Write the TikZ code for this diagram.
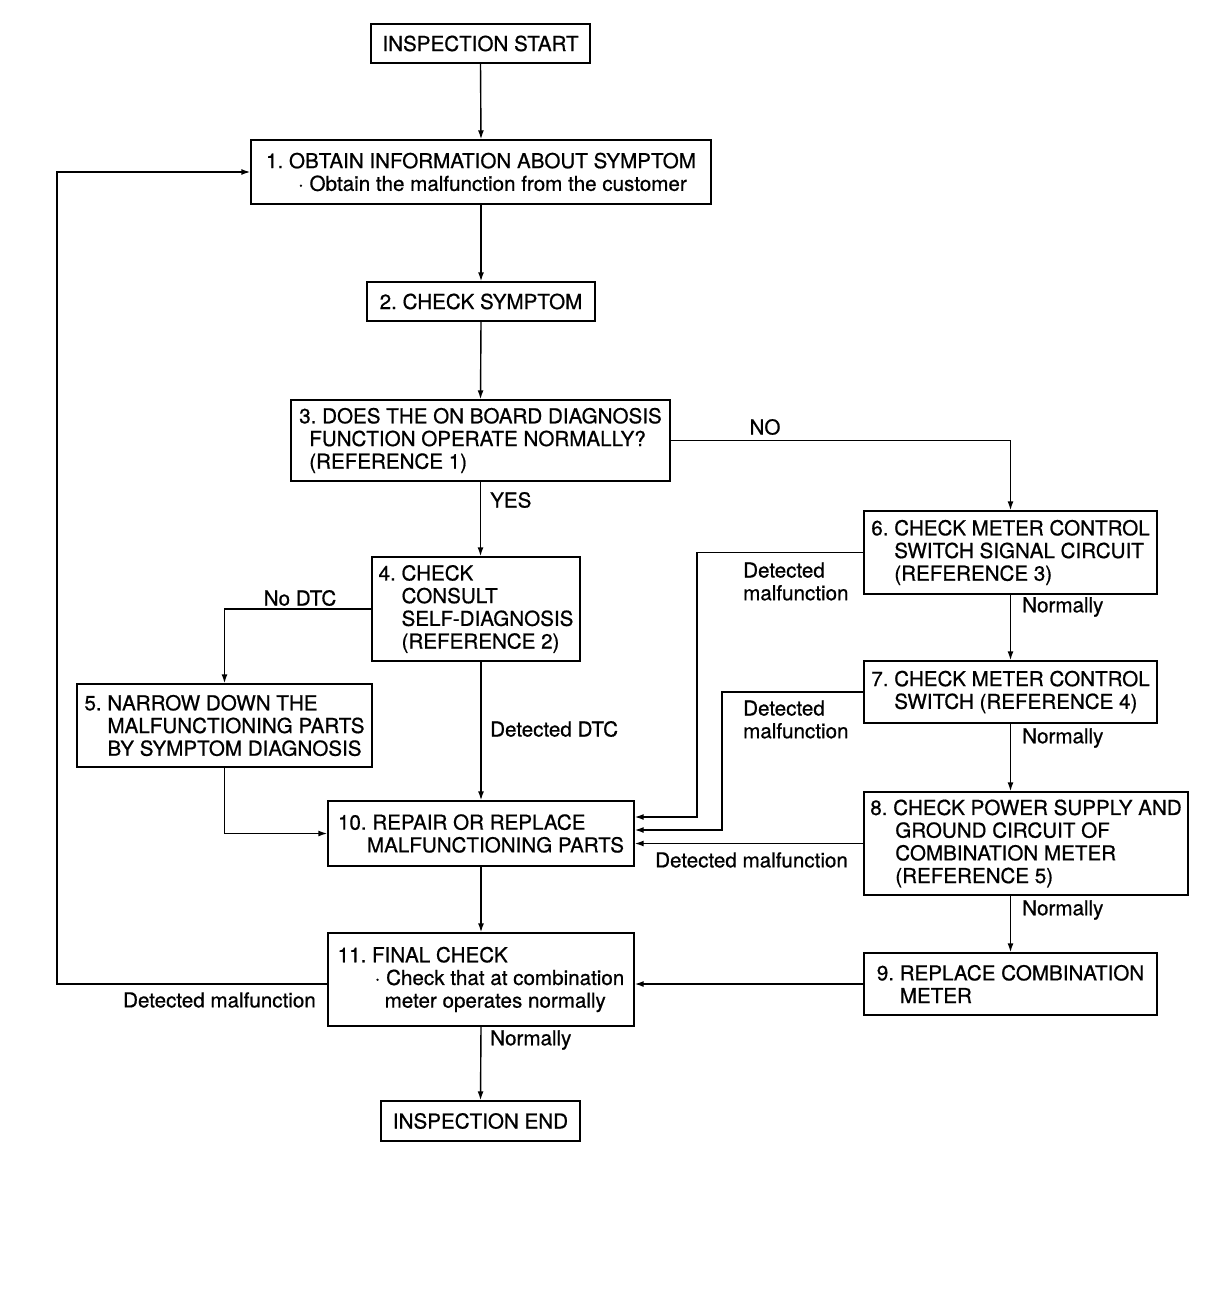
\documentclass[tikz,border=0pt]{standalone}
\usepackage{fontspec}
\setmainfont[FakeBold=0.7]{TeX Gyre Heros}
\usetikzlibrary{arrows.meta}

\begin{document}
\begin{tikzpicture}[x=1pt,y=-1pt,
  stepbox/.style={draw, line width=1.4pt, inner sep=0pt, align=left,
    font=\fontsize{20.6}{22.7}\selectfont\frenchspacing},
  lbl/.style={inner sep=0pt, align=left, font=\fontsize{20.6}{22.7}\selectfont},
  flow/.style={line width=1.4pt, -{Latex[length=9pt,width=6pt]}}]
\useasboundingbox (0,0) rectangle (1216,1298);

% main column
\node[stepbox, align=center, minimum width=219pt, minimum height=39pt] (start) at (480.5,43.5) {INSPECTION START};
\node[stepbox, minimum width=460pt, minimum height=64pt] (b1) at (481,172)
  {1. OBTAIN INFORMATION ABOUT SYMPTOM\\\hspace*{32pt}· Obtain the malfunction from the customer};
\node[stepbox, align=center, minimum width=228pt, minimum height=39pt] (b2) at (481,301.5) {2. CHECK SYMPTOM};
\node[stepbox, minimum width=379pt, minimum height=81pt] (b3) at (480.5,440.5)
  {3. DOES THE ON BOARD DIAGNOSIS\\\hspace*{10pt}FUNCTION OPERATE NORMALLY?\\\hspace*{10pt}(REFERENCE 1)};
\node[stepbox, minimum width=208pt, minimum height=104pt] (b4) at (476,609)
  {4. CHECK\\\hspace*{23pt}CONSULT\\\hspace*{23pt}SELF-DIAGNOSIS\\\hspace*{23pt}(REFERENCE 2)};
\node[stepbox, minimum width=295pt, minimum height=83pt] (b5) at (224.5,725.5)
  {5. NARROW DOWN THE\\\hspace*{23pt}MALFUNCTIONING PARTS\\\hspace*{23pt}BY SYMPTOM DIAGNOSIS};
\node[stepbox, minimum width=306pt, minimum height=65pt] (b10) at (481,833.5)
  {10. REPAIR OR REPLACE\\\hspace*{29pt}MALFUNCTIONING PARTS};
\node[stepbox, minimum width=306pt, minimum height=93pt] (b11) at (481,979.5)
  {11. FINAL CHECK\\\hspace*{37pt}· Check that at combination\\\hspace*{47pt}meter operates normally};
\node[stepbox, align=center, minimum width=199pt, minimum height=40pt] (finish) at (480.5,1121) {INSPECTION END};

% right column
\node[stepbox, minimum width=293pt, minimum height=83pt] (b6) at (1010.5,552.5)
  {6. CHECK METER CONTROL\\\hspace*{23pt}SWITCH SIGNAL CIRCUIT\\\hspace*{23pt}(REFERENCE 3)};
\node[stepbox, minimum width=293pt, minimum height=62pt] (b7) at (1010.5,692)
  {7. CHECK METER CONTROL\\\hspace*{23pt}SWITCH (REFERENCE 4)};
\node[stepbox, minimum width=324pt, minimum height=103pt] (b8) at (1026,843.5)
  {8. CHECK POWER SUPPLY AND\\\hspace*{25pt}GROUND CIRCUIT OF\\\hspace*{25pt}COMBINATION METER\\\hspace*{25pt}(REFERENCE 5)};
\node[stepbox, minimum width=293pt, minimum height=62pt] (b9) at (1010.5,984)
  {9. REPLACE COMBINATION\\\hspace*{23pt}METER};

% labels
\node[lbl] (no) at (765,427) {NO};
\node[lbl, anchor=west] (yes) at (490,500) {YES};
\node[lbl] (nodtc) at (300,598) {No DTC};
\node[lbl, anchor=west] (dtc) at (490,729) {Detected DTC};
\node[lbl, anchor=west] (mal6) at (743,581.5) {Detected\\malfunction};
\node[lbl, anchor=west] (mal7) at (743,719.5) {Detected\\malfunction};
\node[lbl, anchor=west] (mal8) at (655,860) {Detected malfunction};
\node[lbl, anchor=west] (ok6) at (1022,607) {Normally};
\node[lbl, anchor=west] (ok7) at (1022,738) {Normally};
\node[lbl, anchor=west] (ok8) at (1022,910) {Normally};
\node[lbl, anchor=east] (mal11) at (316,1000) {Detected malfunction};
\node[lbl, anchor=west] (ok11) at (490,1040) {Normally};

% connectors
\coordinate (j6) at (697,817);
\coordinate (j7) at (722,830);
\coordinate (back) at (57,984);
\draw[flow] (start.south) -- (b1.north);
\draw[flow] (b1.south) -- (b2.north);
\draw[flow] (b2.south) -- (b3.north);
\draw[flow] (b3.south) -- (b3.south |- b4.north);
\draw[flow] (b3.east) -| (b6.north);
\draw[flow] (b4.west) -| (b5.north);
\draw[flow] (b4.south -| b10.north) -- (b10.north);
\draw[flow] (b5.south) |- (b10.west);
\draw[flow] (b6.west) -| (j6) -- (j6 -| b10.east);
\draw[flow] (b7.west) -| (j7) -- (j7 -| b10.east);
\draw[flow] (b8.west) -- (b8.west -| b10.east);
\draw[flow] (b6.south) -- (b7.north);
\draw[flow] (b7.south) -- (b7.south |- b8.north);
\draw[flow] (b8.south -| b9.north) -- (b9.north);
\draw[flow] (b9.west) -- (b9.west -| b11.east);
\draw[flow] (b10.south) -- (b11.north);
\draw[flow] (b11.west |- back) -- (back) |- (b1.west);
\draw[flow] (b11.south) -- (finish.north);
\end{tikzpicture}
\end{document}
